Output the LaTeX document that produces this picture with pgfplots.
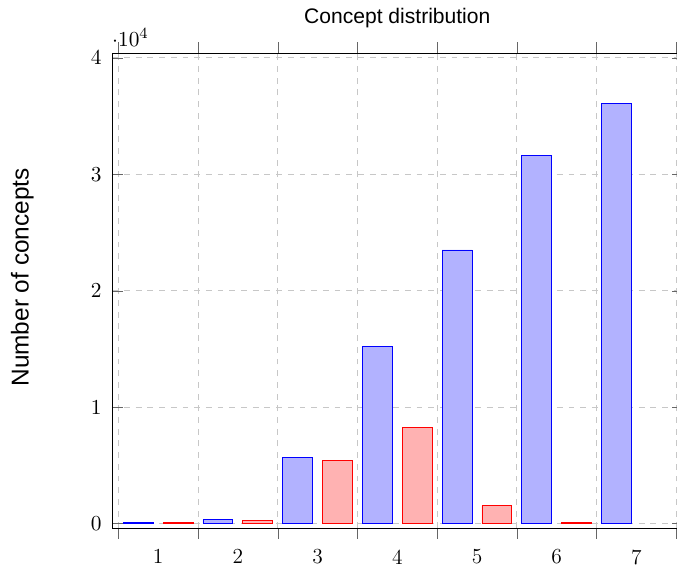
\documentclass[border=0pt]{standalone}
\usepackage{pgfplots}
\pgfplotsset{compat=1.18}
\usepackage{fontspec}
\newfontfamily\arialfont{Liberation Sans}
\begin{document}
\begin{tikzpicture}
\begin{axis}[
  name=ax,
  scale only axis,
  width=292.3pt, height=243.6pt,
  xmin=-0.075, xmax=7.075,
  ymin=-390, ymax=40390,
  xtick={0,1,2,3,4,5,6,7},
  xticklabels={1,2,3,4,5,6,7},
  x tick label as interval,
  xtick align=outside,
  ytick={0,10000,20000,30000,40000},
  major tick length=5.5pt,
  major tick style={black!60},
  tick label style={font=\fontsize{11}{13}\selectfont},
  xticklabel style={inner sep=0.8pt, yshift=-4.5pt},
  yticklabel style={xshift=-2.0pt},
  every y tick scale label/.style={font=\fontsize{11}{13}\selectfont, at={(axis description cs:0,1)}, anchor=base west, xshift=-1.6pt, yshift=3.6pt},
  grid=major,
  major grid style={dashed, black!22},
  ybar, bar width=0.375, bar shift=0pt,
  title={Concept distribution},
  every axis title/.style={font=\arialfont\fontsize{10.8}{13}\selectfont, at={(axis description cs:0.5,1)}, anchor=base, yshift=15.4pt},
  ylabel={Number of concepts},
  every axis y label/.style={font=\arialfont\fontsize{12.5}{15}\selectfont, at={(axis description cs:-0.147,0.528)}, rotate=90, anchor=base},
]
\addplot[draw=blue, fill=blue!30] coordinates {(0.25,90) (1.25,330) (2.25,5680) (3.25,15180) (4.25,23500) (5.25,31600) (6.25,36100)};
\addplot[draw=red, fill=red!30] coordinates {(0.75,90) (1.75,300) (2.75,5400) (3.75,8230) (4.75,1530) (5.75,90)};
\end{axis}
\pgfresetboundingbox
\path[use as bounding box] ([shift={(-57.6pt,-19.8pt)}]ax.south west) rectangle ([shift={(289.6pt,27.3pt)}]ax.north west);
\end{tikzpicture}
\end{document}
